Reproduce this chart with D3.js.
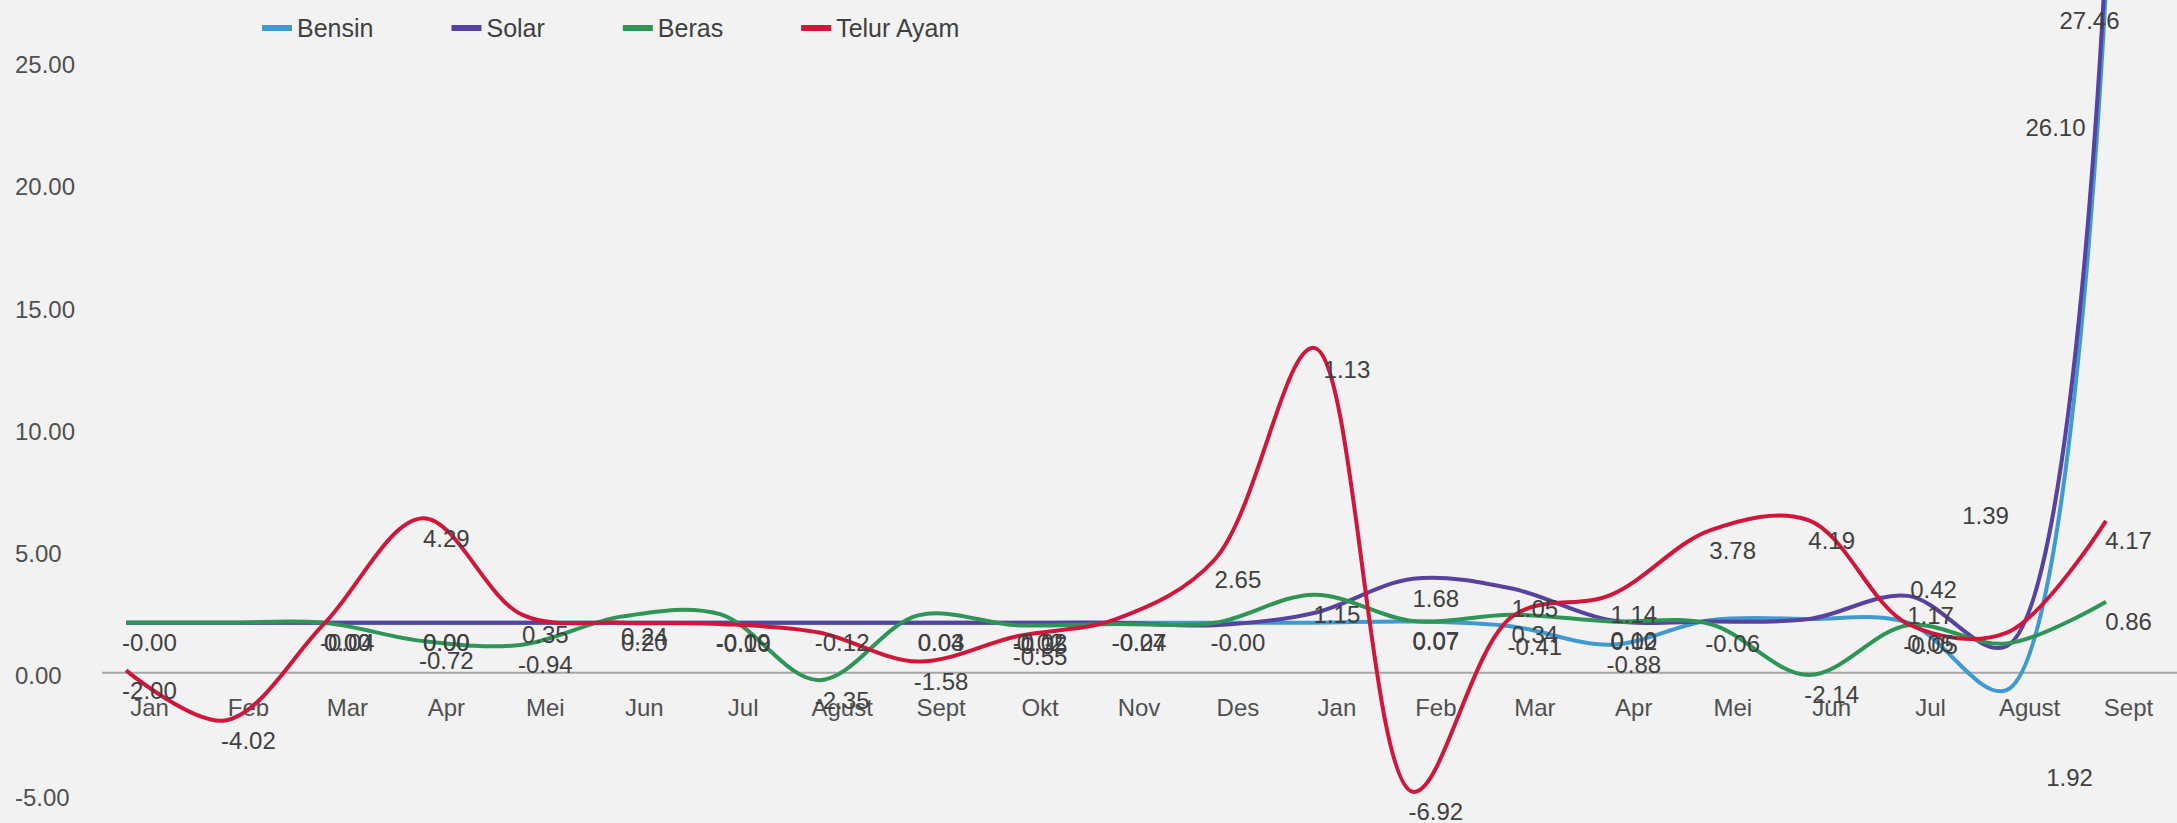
<!DOCTYPE html>
<html>
<head>
<meta charset="utf-8">
<script src="https://cdn.jsdelivr.net/npm/d3@7"></script>
<style>
  body { margin: 0; background: #f2f2f2; }
  text { font-family: "Liberation Sans", Arial, sans-serif; }
</style>
</head>
<body>
<div id="chart"></div>
<script>
const months = ["Jan","Feb","Mar","Apr","Mei","Jun","Jul","Agust","Sept","Okt","Nov","Des",
                "Jan","Feb","Mar","Apr","Mei","Jun","Jul","Agust","Sept"];
const seriesNames = ["Bensin", "Solar", "Beras", "Telur Ayam"];
const yTicks = [-5, 0, 5, 10, 15, 20, 25];

// plotted line values (as they sit on the axis)
const bensin = [2.05,2.05,2.05,2.05,2.05,2.05,2.05,2.05,2.05,2.05,2.05,2.05,2.05,2.1,1.9,1.15,2.15,2.2,2.05,-0.7,28.15];
const solar  = [2.05,2.05,2.05,2.05,2.05,2.05,2.05,2.05,2.05,2.05,2.05,1.95,2.45,3.85,3.45,2.15,2.1,2.2,3.15,1.1,29.5];
const beras  = [2.05,2.05,2.05,1.3,1.15,2.3,2.4,-0.3,2.35,1.95,2.0,2.05,3.2,2.12,2.38,2.1,2.0,-0.09,1.95,1.2,2.91];
const telur  = [0.1,-1.95,2.0,6.33,2.38,2.05,2.0,1.65,0.46,1.5,2.2,4.65,13.3,-4.87,2.3,3.19,5.83,6.24,2.0,1.65,6.22];

// data label texts
const bensinLbl = ["-0.00","","0.00","0.00","","0.20","-0.09","-0.12","0.03","-0.02","-0.07","-0.00","","0.07","-0.41","-0.88","","","0.42","1.92","26.10"];
const solarLbl  = ["","","0.00","0.00","","","","","0.04","0.02","-0.24","","","1.68","1.05","0.10","","","1.17","1.39","27.46"];
const berasLbl  = ["","","-0.04","-0.72","-0.94","0.24","","-2.35","","-0.35","","","1.15","0.07","0.34","0.02","-0.06","-2.14","-0.05","","0.86"];
const telurLbl  = ["-2.00","-4.02","","4.29","0.35","","-0.10","","-1.58","-0.55","","2.65","1.13","-6.92","","1.14","3.78","4.19","0.05","","4.17"];

const colors = ["#3f9ad2", "#5842a0", "#2e9556", "#d0163a"];

// labels that Excel pushed away from their points (px shifts)
const labelNudge = [
  {s: 0, i: 20, dx: -73, dy: 123},
  {s: 1, i: 20, dx: -39, dy: 49},
  {s: 1, i: 19, dx: -44, dy: -150},
  {s: 0, i: 19, dx: 40, dy: 68},
  {s: 0, i: 18, dx: 3, dy: -53},
  {s: 3, i: 12, dx: 10, dy: 2}
];

let dim = {width: 2177, height: 823};

let svg = d3.select('#chart').append('svg')
    .attr('width', dim.width)
    .attr('height', dim.height)
    .style('display', 'block');

let series = [bensin, solar, beras, telur];
let labels = [bensinLbl, solarLbl, berasLbl, telurLbl];

let scaleX = d3.scaleBand()
    .domain(d3.range(months.length))
    .range([100, 2178]);

let scalePt = d3.scalePoint()
    .domain(d3.range(months.length))
    .range([126, 2106]);

let scaleY = d3.scaleLinear()
    .domain([-5, 25])
    .range([795, 62]);

let fmt = d3.formatLocale({decimal: ".", thousands: ",", grouping: [3], currency: ["", ""], minus: "-"}).format(".2f");

// y labels
let gy = svg.append('g')
    .attr('transform', 'translate(15,3)')
    .call(d3.axisLeft(scaleY).tickValues(yTicks).tickSize(0).tickPadding(0).tickFormat(fmt));
gy.select('.domain').remove();
gy.selectAll('text')
    .attr('text-anchor', 'start')
    .attr('x', 0)
    .attr('fill', '#505050')
    .style('font-size', '24px')
    .style('font-family', '"Liberation Sans", Arial, sans-serif');

// zero line
svg.append('line')
    .attr('x1', 102).attr('x2', dim.width)
    .attr('y1', scaleY(0)).attr('y2', scaleY(0))
    .attr('stroke', '#a6a6a6')
    .attr('stroke-width', 2);

// category labels
let gx = svg.append('g')
    .attr('transform', `translate(0,${scaleY(0)})`)
    .call(d3.axisBottom(scaleX).tickSize(0).tickPadding(26).tickFormat(i => months[i]));
gx.select('.domain').remove();
gx.selectAll('text')
    .attr('fill', '#505050')
    .style('font-size', '24px')
    .style('font-family', '"Liberation Sans", Arial, sans-serif');

let line = d3.line()
    .x((d, i) => scalePt(i))
    .y(d => scaleY(d))
    .curve(d3.curveCatmullRom.alpha(0.5));

svg.selectAll('path.series')
    .data(series)
    .enter()
    .append('path')
    .attr('class', 'series')
    .attr('d', d => line(d))
    .attr('fill', 'none')
    .attr('stroke', (d, i) => colors[i])
    .attr('stroke-width', 4)
    .attr('stroke-linejoin', 'round');

// data labels
let labelData = [];
series.forEach((vals, s) => {
  vals.forEach((v, i) => {
    if (!labels[s][i]) return;
    let n = labelNudge.find(k => k.s === s && k.i === i) || {dx: 0, dy: 0};
    labelData.push({
      text: labels[s][i],
      x: scaleX(i) + scaleX.bandwidth() / 2 + n.dx,
      y: scaleY(v) + 20 + n.dy
    });
  });
});

svg.append('g')
    .selectAll('text')
    .data(labelData)
    .enter()
    .append('text')
    .attr('x', d => d.x)
    .attr('y', d => d.y)
    .attr('dy', '0.35em')
    .attr('text-anchor', 'middle')
    .attr('fill', '#404040')
    .style('font-size', '24px')
    .text(d => d.text);

// legend
let legend = svg.append('g').attr('transform', 'translate(262,28)');
let lx = 0;
seriesNames.forEach((name, i) => {
  let item = legend.append('g').attr('transform', `translate(${lx},0)`);
  item.append('rect')
      .attr('x', 0).attr('y', -3)
      .attr('width', 30).attr('height', 6)
      .attr('fill', colors[i]);
  let t = item.append('text')
      .attr('x', 35)
      .attr('dy', '0.35em')
      .attr('fill', '#404040')
      .style('font-size', '25px')
      .text(name);
  lx += 35 + t.node().getComputedTextLength() + 78;
});
</script>
</body>
</html>
